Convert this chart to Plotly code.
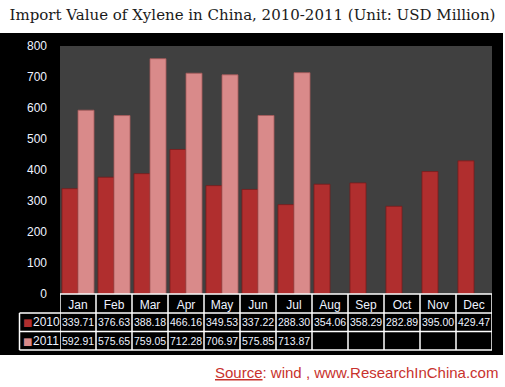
import plotly.graph_objects as go

months = ["Jan", "Feb", "Mar", "Apr", "May", "Jun", "Jul", "Aug", "Sep", "Oct", "Nov", "Dec"]
values_2010 = [339.71, 376.63, 388.18, 466.16, 349.53, 337.22, 288.30, 354.06, 358.29, 282.89, 395.00, 429.47]
values_2011 = [592.91, 575.65, 759.05, 712.28, 706.97, 575.85, 713.87, None, None, None, None, None]
series_names = ["2010", "2011"]
y_ticks = [0, 100, 200, 300, 400, 500, 600, 700, 800]

W, H = 505, 387
L, R, T, B = 60, 13, 46, 93
pw, ph = W - L - R, H - T - B


def px(x):
    return (x - L) / pw


def py(y):
    return (H - B - y) / ph


color_2010 = "#b02e2e"
color_2011 = "#d98a8a"
text_col = "#eef3ff"

fig = go.Figure()
fig.add_trace(go.Bar(x=months, y=values_2010, name=series_names[0],
                     marker=dict(color=color_2010, line=dict(color="#7a1c1c", width=0.8))))
fig.add_trace(go.Bar(x=months, y=values_2011, name=series_names[1],
                     marker=dict(color=color_2011, line=dict(color="#a85a5a", width=0.8))))

shapes = []
# black panel
shapes.append(dict(type="rect", xref="paper", yref="paper", x0=px(0), x1=px(503), y0=py(355), y1=py(33),
                   fillcolor="black", line=dict(width=0), layer="below"))
# plot background panel
shapes.append(dict(type="rect", xref="paper", yref="paper", x0=0, x1=1, y0=0, y1=1,
                   fillcolor="#404040", line=dict(width=0), layer="below"))
lw = 1.5
# horizontal table lines
shapes.append(dict(type="line", xref="paper", yref="paper", x0=0, x1=1, y0=py(294), y1=py(294),
                   line=dict(color="white", width=lw)))
for yy in [313, 331.5, 350]:
    shapes.append(dict(type="line", xref="paper", yref="paper", x0=px(19.5), x1=1, y0=py(yy), y1=py(yy),
                       line=dict(color="white", width=lw)))
# left edge of row label column
shapes.append(dict(type="line", xref="paper", yref="paper", x0=px(19.5), x1=px(19.5), y0=py(313), y1=py(350),
                   line=dict(color="white", width=lw)))
# vertical column lines
for i in range(len(months) + 1):
    shapes.append(dict(type="line", xref="x", yref="paper", x0=i - 0.5, x1=i - 0.5, y0=py(294), y1=py(350),
                       line=dict(color="white", width=lw)))

annotations = []
row_y = [py(322.3), py(341)]
row_colors = [color_2010, color_2011]
for name, vals, ry, rc in zip(series_names, [values_2010, values_2011], row_y, row_colors):
    annotations.append(dict(xref="paper", yref="paper", x=px(21), y=ry, xanchor="left", yanchor="middle",
                            text="■", showarrow=False, font=dict(family="DejaVu Sans", size=10, color=rc)))
    annotations.append(dict(xref="paper", yref="paper", x=px(31), y=ry, xanchor="left", yanchor="middle",
                            text=name, showarrow=False, font=dict(family="Liberation Sans", size=12, color=text_col)))
    for m, v in zip(months, vals):
        if v is None:
            continue
        annotations.append(dict(xref="x", yref="paper", x=m, y=ry, xanchor="center", yanchor="middle",
                                text=f"{v:.2f}", showarrow=False,
                                font=dict(family="Liberation Sans", size=10.5, color=text_col)))

annotations.append(dict(xref="paper", yref="paper", x=px(500), y=py(372), xanchor="right", yanchor="middle",
                        text="<u>Source</u>: wind , www.ResearchInChina.com", showarrow=False,
                        font=dict(family="Liberation Sans", size=15, color="#c8322d")))

fig.update_layout(
    width=W, height=H,
    margin=dict(l=L, r=R, t=T, b=B, pad=0),
    paper_bgcolor="white",
    plot_bgcolor="rgba(0,0,0,0)",
    barmode="group",
    bargap=0.11,
    bargroupgap=0,
    showlegend=False,
    title=dict(text="Import Value of Xylene in China, 2010-2011 (Unit: USD Million)",
               xref="container", x=0.5, xanchor="center", yref="container", y=1 - 15 / H, yanchor="middle",
               font=dict(family="DejaVu Serif", size=15, color="#1a1a1a")),
    xaxis=dict(range=[-0.5, 11.5], showgrid=False, zeroline=False, showline=False, ticks="",
               tickfont=dict(family="Liberation Sans", size=12, color=text_col), ticklabelstandoff=2),
    yaxis=dict(range=[0, 800], tickvals=y_ticks, showgrid=False, zeroline=False, showline=False, ticks="",
               tickfont=dict(family="Liberation Sans", size=12, color=text_col), ticklabelstandoff=12),
    shapes=shapes,
    annotations=annotations,
)

fig.write_html("out.html", config={"displayModeBar": False},
               post_script="document.body.style.margin='0';document.body.style.padding='0';")
